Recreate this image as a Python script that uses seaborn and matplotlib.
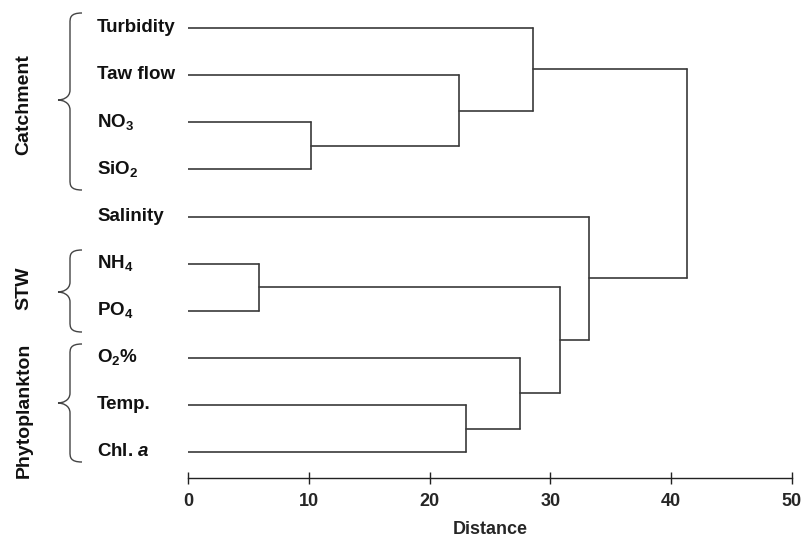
import numpy as np
import pandas as pd
import matplotlib
matplotlib.use("Agg")
import matplotlib.pyplot as plt
import matplotlib.transforms as mtransforms
from matplotlib.path import Path
from matplotlib.patches import PathPatch
import seaborn as sns

# leaves, top to bottom
leaves = ["Turbidity", "Taw flow", "NO$_3$", "SiO$_2$", "Salinity",
          "NH$_4$", "PO$_4$", "O$_2$%", "Temp.", "Chl. $a$"]

# merges: child a, child b, distance (new nodes numbered from 10 up)
merge_a = [2, 1, 0, 5, 8, 7, 13, 4, 12]
merge_b = [3, 10, 11, 6, 9, 14, 15, 16, 17]
merge_dist = [10.2, 22.4, 28.6, 5.9, 23.0, 27.5, 30.8, 33.2, 41.3]

groups = ["Catchment", "STW", "Phytoplankton"]

sns.set_theme(style="white")
plt.rcParams["font.family"] = ["Liberation Sans", "DejaVu Sans"]
plt.rcParams["font.weight"] = "bold"
plt.rcParams["mathtext.fontset"] = "custom"
plt.rcParams["mathtext.rm"] = "Liberation Sans:bold"
plt.rcParams["mathtext.it"] = "Liberation Sans:bold:italic"

# build dendrogram segments
ypos = {i: float(i) for i in range(len(leaves))}
xpos = {i: 0.0 for i in range(len(leaves))}
rows = []
seg = 0
for k, (a, b, d) in enumerate(zip(merge_a, merge_b, merge_dist)):
    node = len(leaves) + k
    for c in (a, b):
        rows.append((seg, xpos[c], ypos[c]))
        rows.append((seg, d, ypos[c]))
        seg += 1
    rows.append((seg, d, ypos[a]))
    rows.append((seg, d, ypos[b]))
    seg += 1
    ypos[node] = (ypos[a] + ypos[b]) / 2
    xpos[node] = d
segs = pd.DataFrame(rows, columns=["seg", "x", "y"])

W, H = 805, 546
fig = plt.figure(figsize=(W / 100, H / 100), dpi=100)
ax = fig.add_axes([188 / W, 1 - 478 / H, (792 - 188) / W, (478 - 7) / H])

sns.lineplot(data=segs, x="x", y="y", units="seg", estimator=None, sort=False,
             color="#3a3a3a", linewidth=1.2, ax=ax)

ax.set_xlim(0, 50)
ax.set_ylim(9.55, -0.45)
ax.set_yticks([])
ax.set_ylabel("")
for s in ["left", "top", "right"]:
    ax.spines[s].set_visible(False)
ax.spines["bottom"].set_color("#222222")
ax.spines["bottom"].set_linewidth(1.0)
ax.set_xticks(np.arange(0, 51, 10))
ax.tick_params(axis="x", direction="inout", length=8, width=1.0, color="#222222",
               labelsize=13, pad=7, bottom=True)
for t in ax.get_xticklabels():
    t.set_fontweight("bold")
ax.set_xlabel("Distance", fontsize=13, fontweight="bold", labelpad=8)

# leaf labels
tr = mtransforms.blended_transform_factory(fig.transFigure, ax.transData)
for i, lab in enumerate(leaves):
    ax.text(97 / W, i - 0.01, lab, transform=tr, ha="left", va="center",
            fontsize=13.5, fontweight="bold", color="#111111")


# group braces
def brace(y0, y1, ytip, x_tip=58, x_mid=70, x_end=82):
    r = 10
    fy = lambda p: 1 - p / H
    fx = lambda p: p / W
    verts = [
        (x_end, y0),
        (x_mid, y0), (x_mid, y0 + r / 2), (x_mid, y0 + r),
        (x_mid, ytip - r),
        (x_mid, ytip - 2), (x_tip + 4, ytip), (x_tip, ytip),
        (x_tip + 4, ytip), (x_mid, ytip + 2), (x_mid, ytip + r),
        (x_mid, y1 - r),
        (x_mid, y1 - r / 2), (x_mid, y1), (x_end, y1),
    ]
    codes = [Path.MOVETO,
             Path.CURVE4, Path.CURVE4, Path.CURVE4,
             Path.LINETO,
             Path.CURVE4, Path.CURVE4, Path.CURVE4,
             Path.CURVE4, Path.CURVE4, Path.CURVE4,
             Path.LINETO,
             Path.CURVE4, Path.CURVE4, Path.CURVE4]
    verts = [(fx(x), fy(y)) for x, y in verts]
    fig.add_artist(PathPatch(Path(verts, codes), transform=fig.transFigure,
                             fill=False, edgecolor="#444444", linewidth=1.0))


brace(13, 190, 100)
brace(250, 332, 292)
brace(344, 462, 403)

for lab, yc in zip(groups, [105, 288, 410]):
    fig.text(24 / W, 1 - yc / H, lab, rotation=90, ha="center", va="center",
             fontsize=14, fontweight="bold", color="#111111")

fig.savefig("out.png", dpi=100)
